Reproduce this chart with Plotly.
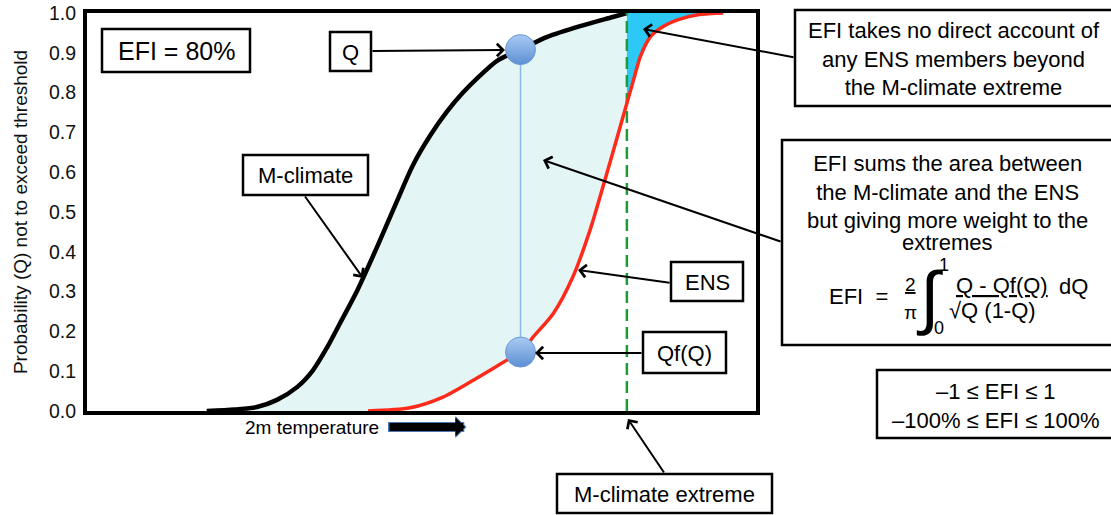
import plotly.graph_objects as go

# ---------------- data ----------------
# M-climate cumulative distribution (black curve)
mclim_x = [17.9, 22.1, 25.4, 28.4, 31.4, 33.8, 35.9, 37.8, 40.4, 43.3, 46.3,
           48.7, 51.3, 53.8, 56.2, 58.7, 61.3, 64.8, 68.8, 73.7, 78.6, 80.7]
mclim_q = [0.0, 0.004, 0.010, 0.028, 0.06, 0.103, 0.16, 0.22, 0.303, 0.41, 0.526,
           0.617, 0.692, 0.752, 0.80, 0.842, 0.88, 0.908, 0.94, 0.967, 0.99, 1.0]
# ENS cumulative distribution (red curve)
ens_x = [42.0, 48.3, 53.2, 58.3, 62.8, 64.9, 66.7, 69.7, 72.6, 75.2, 77.7,
         79.7, 80.7, 81.7, 82.7, 84.2, 86.0, 88.5, 91.5, 95.1]
ens_q = [0.0, 0.008, 0.035, 0.083, 0.128, 0.148, 0.186, 0.245, 0.336, 0.455, 0.597,
         0.714, 0.773, 0.832, 0.89, 0.94, 0.965, 0.984, 0.996, 1.0]
mclim_extreme_x = 80.7
point_x = 64.8
point_q = 0.908
point_qf = 0.148
y_ticks = [0.0, 0.1, 0.2, 0.3, 0.4, 0.5, 0.6, 0.7, 0.8, 0.9, 1.0]
y_ticktext = ["0.0", "0.1", "0.2", "0.3", "0.4", "0.5", "0.6", "0.7", "0.8", "0.9", "1.0"]

FONT = "Liberation Sans, Arial, Helvetica, sans-serif"
LIGHT = "#e3f5f5"
BRIGHT = "#2cc9f6"
RED = "#ff2a1a"
GREEN = "#1f9a36"

# page geometry (pixels in the 1111x515 window)
FW, FH = 1111, 515
L, R, T, B = 87, 756, 13, 411   # plot area in page pixels


def px(x):
    return (x - L) / (R - L)


def py(y):
    return (B - y) / (B - T)


ext_i = ens_x.index(mclim_extreme_x)
ens_lo_x, ens_lo_q = ens_x[:ext_i + 1], ens_q[:ext_i + 1]
ens_hi_x, ens_hi_q = ens_x[ext_i:], ens_q[ext_i:]

SM = 0.8
fig = go.Figure()
# light fill between M-climate and ENS (up to the M-climate extreme)
fig.add_trace(go.Scatter(x=ens_lo_x, y=ens_lo_q, mode="lines",
                         line=dict(width=0, shape="spline", smoothing=SM),
                         hoverinfo="skip", showlegend=False))
fig.add_trace(go.Scatter(x=mclim_x, y=mclim_q, mode="lines", fill="tonexty",
                         fillcolor=LIGHT,
                         line=dict(width=0, shape="spline", smoothing=SM),
                         hoverinfo="skip", showlegend=False))
# bright fill beyond the M-climate extreme
fig.add_trace(go.Scatter(x=ens_hi_x, y=ens_hi_q, mode="lines",
                         line=dict(width=0, shape="spline", smoothing=SM),
                         hoverinfo="skip", showlegend=False))
fig.add_trace(go.Scatter(x=[mclim_extreme_x, ens_x[-1]], y=[1.0, 1.0], mode="lines",
                         fill="tonexty", fillcolor=BRIGHT, line=dict(width=0),
                         hoverinfo="skip", showlegend=False))
# M-climate curve
fig.add_trace(go.Scatter(x=mclim_x, y=mclim_q, mode="lines",
                         line=dict(color="black", width=4.5, shape="spline", smoothing=SM),
                         hoverinfo="skip", showlegend=False))
# M-climate extreme dashed line
fig.add_trace(go.Scatter(x=[mclim_extreme_x, mclim_extreme_x], y=[0, 1], mode="lines",
                         line=dict(color=GREEN, width=2.5, dash="12px,6px"),
                         hoverinfo="skip", showlegend=False))
# ENS curve
fig.add_trace(go.Scatter(x=ens_x, y=ens_q, mode="lines",
                         line=dict(color=RED, width=3.5, shape="spline", smoothing=SM),
                         hoverinfo="skip", showlegend=False))
# vertical connector Q -> Qf(Q)
fig.add_trace(go.Scatter(x=[point_x, point_x], y=[point_q, point_qf], mode="lines",
                         line=dict(color="#8cb6ee", width=1.5),
                         hoverinfo="skip", showlegend=False))
fig.add_trace(go.Scatter(x=[point_x, point_x], y=[point_q, point_qf], mode="markers",
                         marker=dict(size=30, color="#a9cbf3",
                                     gradient=dict(type="vertical", color="#5d8fd3"),
                                     line=dict(color="#6d9ad6", width=1)),
                         cliponaxis=False, hoverinfo="skip", showlegend=False))

shapes = []
annotations = []


def box(x0, y0, x1, y1):
    shapes.append(dict(type="rect", xref="paper", yref="paper",
                       x0=px(x0), x1=px(x1), y0=py(y1), y1=py(y0),
                       line=dict(color="black", width=2.5), fillcolor="white",
                       layer="above"))


def text(t, cx, cy, size=22, **kw):
    d = dict(x=px(cx), y=py(cy), xref="paper", yref="paper", text=t,
             showarrow=False, font=dict(family=FONT, size=size, color="black"),
             xanchor="center", yanchor="middle", align="center")
    d.update(kw)
    annotations.append(d)


def arrow(tail, tip, width=2, head=4, size=1.2, color="black"):
    annotations.append(dict(x=px(tip[0]), y=py(tip[1]), xref="paper", yref="paper",
                            ax=tail[0] - tip[0], ay=tail[1] - tip[1],
                            axref="pixel", ayref="pixel", text="", showarrow=True,
                            arrowhead=head, arrowsize=size, arrowwidth=width,
                            arrowcolor=color, standoff=0, startstandoff=0))


# boxes and their texts
box(102, 29, 250, 72)
text("EFI = 80%", 176, 51, size=25)
box(330, 32, 371, 71)
text("Q", 350.5, 52)
box(243, 155, 368, 195)
text("M-climate", 305.5, 175.5)
box(671, 262, 743, 301)
text("ENS", 707, 282)
box(643, 332, 726, 373)
text("Qf(Q)", 684.5, 353)
box(557, 474, 772, 513)
text("M-climate extreme", 664.5, 494)
box(795, 10, 1114, 106)
text("EFI takes no direct account of<br>any ENS members beyond<br>the M-climate extreme",
     954, 59)
box(782, 140, 1113, 345)
text("EFI sums the area between<br>the M-climate and the ENS<br>but giving more weight to the",
     947, 191.5)
text("extremes", 947, 242)
box(877, 370, 1116, 438)
text("\u20131 \u2264 EFI \u2264 1<br>\u2013100% \u2264 EFI \u2264 100%", 996, 406)

# formula
text("EFI  =", 858, 296)
text("<u>2</u>", 910, 284, size=19)
text("\u03c0", 910, 312, size=19)
text("\u222b", 929, 297, size=70)
text("1", 944, 265, size=18)
text("0", 939, 328, size=18)
text("<u>Q - Qf(Q)</u>", 1002, 285)
text("\u221aQ (1-Q)", 992, 310)
text("dQ", 1073, 286)

# x label
text("2m temperature", 312, 427, size=19)

# arrows
arrow((371, 51), (505, 50))
arrow((304, 195), (363, 278))
arrow((782, 242), (543, 160))
arrow((795, 57.5), (643, 29))
arrow((671, 283), (578, 270))
arrow((643, 353), (535, 353))
arrow((665, 474), (628, 419))
# block arrow next to the x label (thin blue outline + black body)
arrow((386.5, 427), (466.5, 427), width=10, head=1, size=0.37, color="#4a78b4")
arrow((388, 427), (465, 427), width=8, head=1, size=0.4)

fig.update_layout(
    width=FW, height=FH, autosize=False,
    margin=dict(l=L, r=FW - R, t=T, b=FH - B, pad=0),
    paper_bgcolor="white", plot_bgcolor="white",
    font=dict(family=FONT, color="black"),
    hovermode=False,
    shapes=shapes, annotations=annotations,
    xaxis=dict(range=[0, 100], showticklabels=False, showgrid=False, zeroline=False,
               showline=True, mirror=True, linecolor="black", linewidth=4, ticks="",
               automargin=False),
    yaxis=dict(range=[0, 1], tickvals=y_ticks, ticktext=y_ticktext,
               tickfont=dict(family=FONT, size=19.5, color="#111"),
               showgrid=False, zeroline=False, showline=True, mirror=True,
               linecolor="black", linewidth=4, ticks="", ticklabelstandoff=3,
               ticklabeloverflow="allow", automargin=False,
               title=dict(text="Probability (Q) not to exceed threshold",
                          font=dict(family=FONT, size=19, color="#111"), standoff=17)),
)

fig.write_html("out.html", config={"displayModeBar": False},
               post_script="document.body.style.margin='0';")
